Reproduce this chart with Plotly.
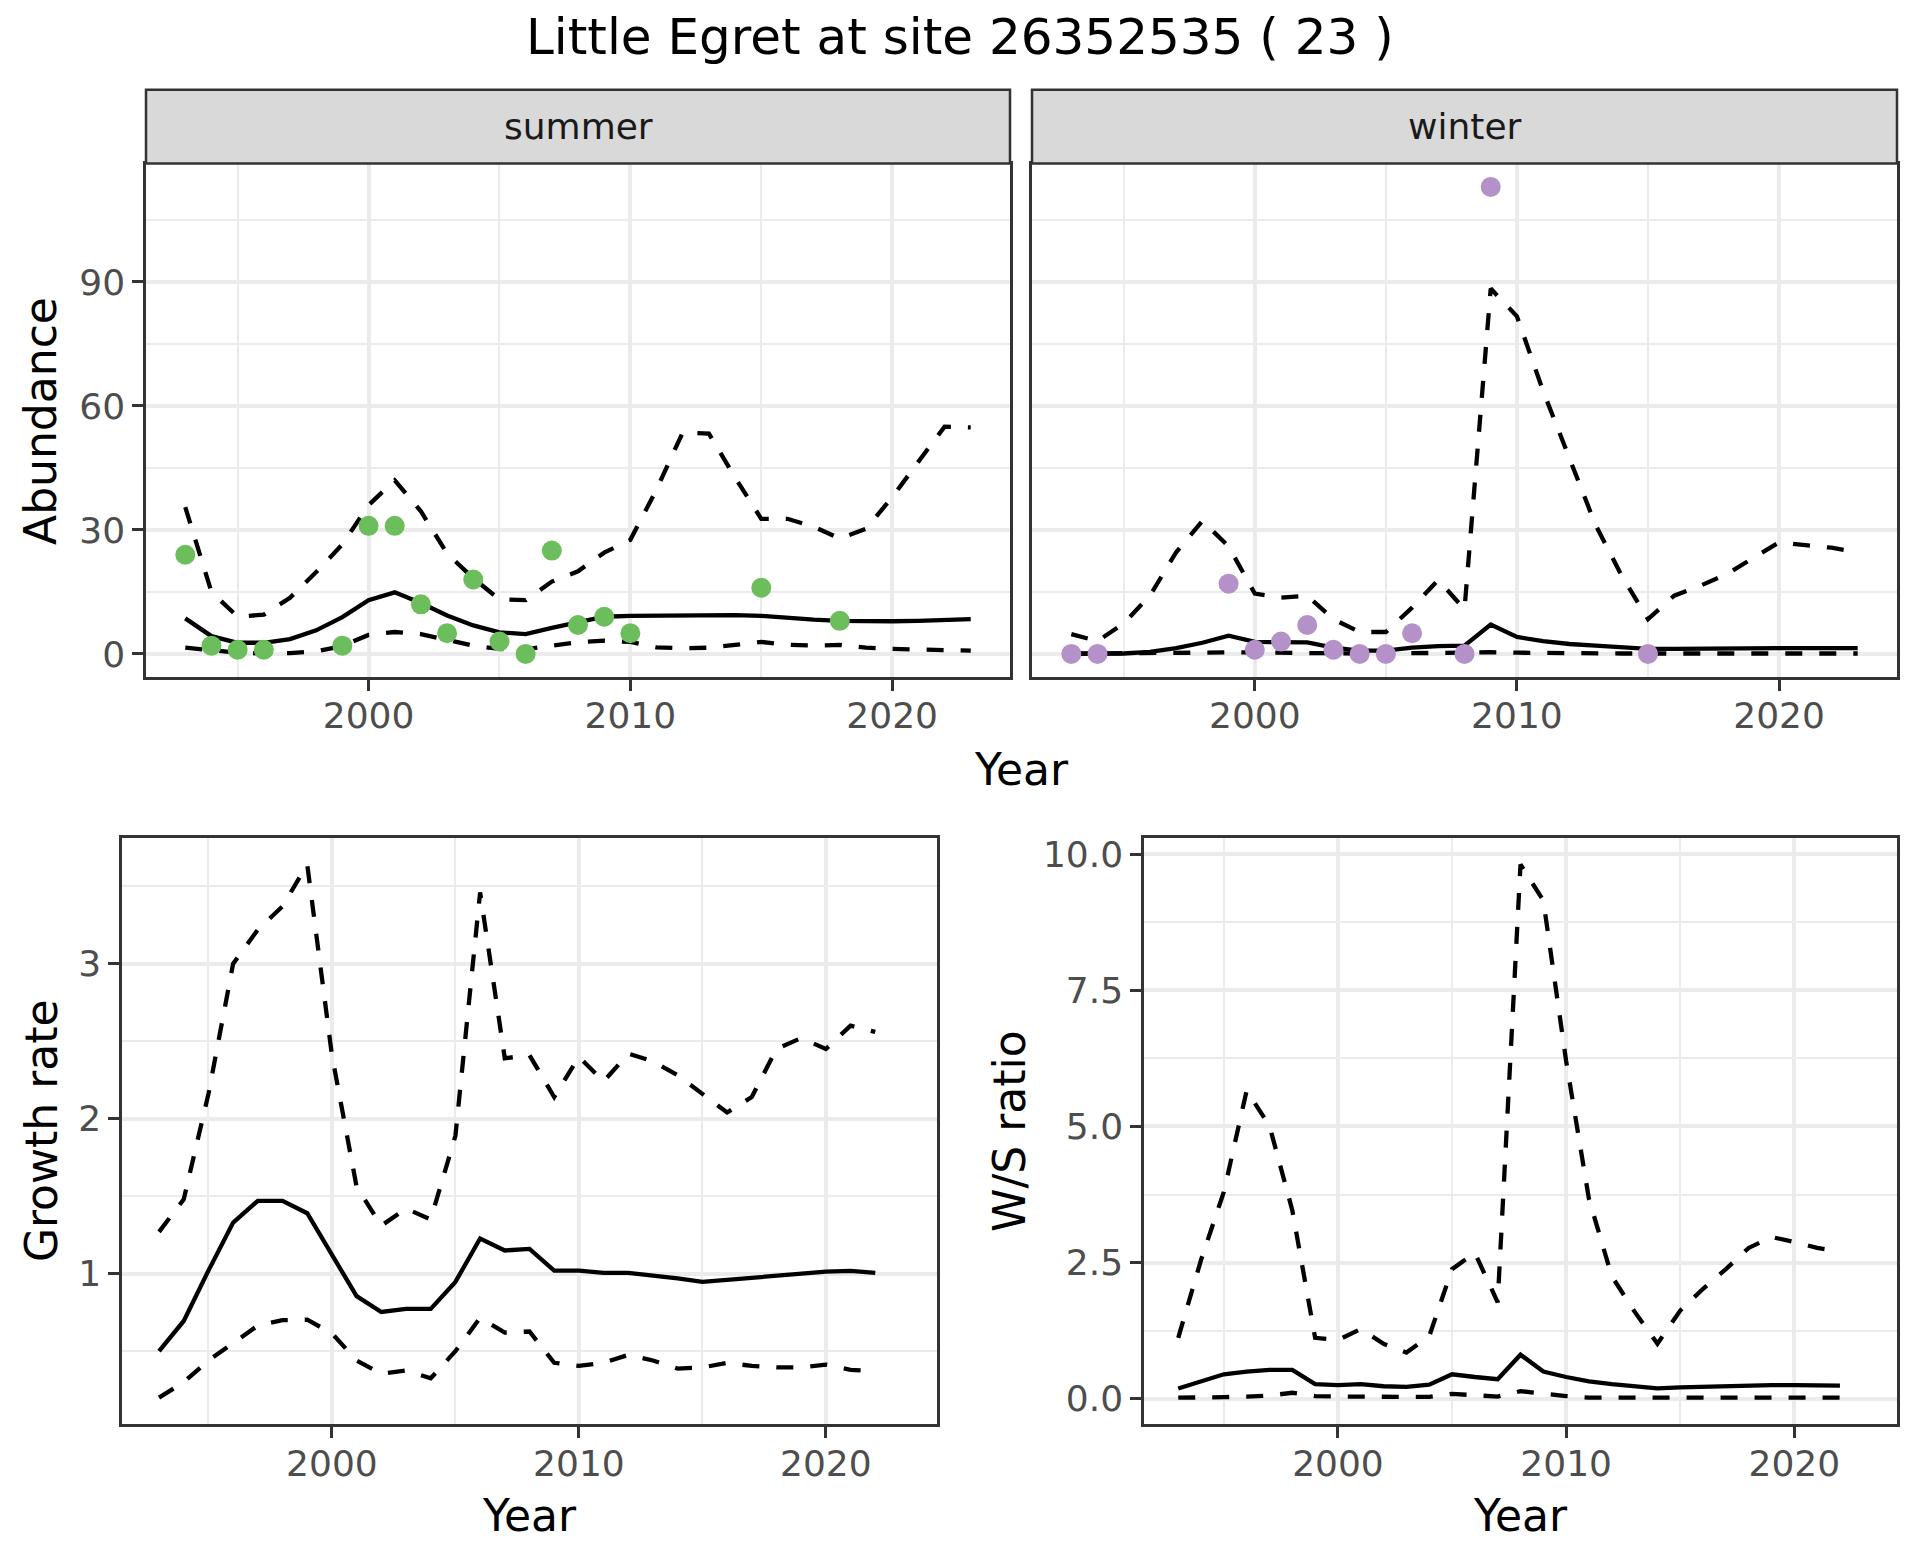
import plotly.graph_objects as go

# ---------------- data ----------------
years_top = list(range(1993, 2024))
years_ratio = list(range(1993, 2023))

summer_mean = [8.6, 4.3, 2.7, 2.7, 3.6, 5.7, 8.9, 13.0, 14.9, 12.3, 9.3, 6.9, 5.2, 4.8, 6.3, 7.7,
               9.0, 9.2, 9.3, 9.4, 9.4, 9.4, 9.2, 8.7, 8.3, 8.0, 7.9, 7.9, 8.0, 8.2, 8.4]
summer_upper = [35.5, 15.0, 9.0, 9.5, 13.6, 19.8, 26.5, 36.0, 42.0, 34.5, 24.3, 18.3, 13.2, 13.0, 17.5, 20.0,
                24.5, 27.6, 39.8, 53.6, 53.3, 42.7, 32.7, 32.7, 30.8, 27.9, 30.3, 37.9, 46.5, 55.0, 54.8]
summer_lower = [1.5, 0.8, 0.3, 0.1, 0.2, 0.6, 1.9, 4.6, 5.3, 4.8, 3.5, 2.0, 1.2, 1.1, 2.0, 2.8,
                3.2, 2.9, 1.6, 1.4, 1.5, 2.2, 2.9, 2.2, 2.0, 2.2, 1.5, 1.2, 1.0, 0.8, 0.8]
summer_obs_years = [1993, 1994, 1995, 1996, 1999, 2000, 2001, 2002, 2003, 2004, 2005, 2006, 2007, 2008,
                    2009, 2010, 2015, 2018]
summer_obs = [24, 2, 1, 1, 2, 31, 31, 12, 5, 18, 3, 0, 25, 7, 9, 5, 16, 8]

winter_mean = [0.0, 0.0, 0.1, 0.5, 1.4, 2.7, 4.4, 2.9, 2.9, 2.8, 1.5, 0.8, 0.8, 1.5, 1.9, 2.0,
               7.1, 4.1, 3.1, 2.4, 2.0, 1.6, 1.2, 1.2, 1.3, 1.3, 1.4, 1.4, 1.4, 1.4, 1.4]
winter_upper = [4.8, 3.1, 7.4, 14.1, 24.6, 32.2, 26.0, 14.6, 13.6, 14.1, 8.4, 5.3, 5.3, 11.2, 17.9, 10.8,
                88.4, 81.7, 63.6, 47.4, 31.2, 18.9, 8.4, 14.1, 16.5, 19.3, 23.1, 27.0, 26.3, 25.7, 24.6]
winter_lower = [0.1, 0.1, 0.1, 0.1, 0.2, 0.3, 0.4, 0.3, 0.3, 0.3, 0.2, 0.1, 0.1, 0.2, 0.2, 0.2,
                0.4, 0.3, 0.2, 0.1, 0.1, 0.1, 0.1, 0.1, 0.1, 0.1, 0.1, 0.1, 0.1, 0.1, 0.1]
winter_obs_years = [1993, 1994, 1999, 2000, 2001, 2002, 2003, 2004, 2005, 2006, 2008, 2009, 2015]
winter_obs = [0, 0, 17, 1, 3, 7, 1, 0, 0, 5, 0, 113, 0]

growth_mean = [0.50, 0.695, 1.02, 1.33, 1.47, 1.47, 1.39, 1.12, 0.855, 0.753, 0.773, 0.773, 0.947, 1.227,
               1.15, 1.16, 1.02, 1.02, 1.005, 1.005, 0.99, 0.97, 0.947, 0.96, 0.975, 0.99, 1.005, 1.013,
               1.018, 1.005]
growth_upper = [1.27, 1.48, 2.16, 3.0, 3.22, 3.37, 3.64, 2.41, 1.56, 1.31, 1.42, 1.35, 1.89, 3.46,
                2.39, 2.41, 2.14, 2.40, 2.24, 2.42, 2.37, 2.28, 2.16, 2.04, 2.14, 2.45, 2.52, 2.45,
                2.60, 2.56]
growth_lower = [0.20, 0.30, 0.44, 0.55, 0.665, 0.70, 0.703, 0.615, 0.44, 0.355, 0.375, 0.325, 0.50, 0.715,
                0.62, 0.627, 0.425, 0.405, 0.425, 0.476, 0.44, 0.388, 0.395, 0.425, 0.405, 0.395, 0.395,
                0.413, 0.38, 0.37]

ws_mean = [0.19, 0.32, 0.45, 0.50, 0.53, 0.53, 0.27, 0.25, 0.27, 0.23, 0.22, 0.26, 0.45, 0.40, 0.36,
           0.81, 0.50, 0.40, 0.32, 0.27, 0.22, 0.19, 0.21, 0.22, 0.24, 0.245, 0.25, 0.25, 0.245, 0.24]
ws_upper = [1.12, 2.55, 3.8, 5.66, 5.01, 3.46, 1.12, 1.08, 1.28, 1.01, 0.85, 1.15, 2.38, 2.68, 1.77,
            9.81, 9.15, 6.20, 3.67, 2.25, 1.6, 1.01, 1.62, 2.02, 2.38, 2.77, 2.97, 2.88, 2.77, 2.70]
ws_lower = [0.02, 0.02, 0.03, 0.04, 0.06, 0.11, 0.05, 0.04, 0.04, 0.04, 0.035, 0.035, 0.09, 0.065, 0.04,
            0.14, 0.09, 0.05, 0.02, 0.02, 0.02, 0.02, 0.02, 0.02, 0.02, 0.02, 0.02, 0.02, 0.02, 0.02]

title_text = "Little Egret at site 26352535 ( 23 )"
facet_labels = ["summer", "winter"]

# ---------------- styling ----------------
W, H = 1920, 1560
FONT = "DejaVu Sans"
GREEN = "#6CBE5C"
PURPLE = "#B491C8"
DASH = "17px,17px"
LW = 4.3


def px_x(v):
    return v / W


def px_y(v):
    return 1 - v / H


fig = go.Figure()


def add_lines(xs, mean, lo, hi, xa, ya):
    for vals, dash in ((mean, "solid"), (lo, DASH), (hi, DASH)):
        fig.add_trace(go.Scatter(x=xs, y=vals, mode="lines", xaxis=xa, yaxis=ya,
                                 line=dict(color="black", width=LW, dash=dash),
                                 showlegend=False, hoverinfo="skip"))


add_lines(years_top, summer_mean, summer_lower, summer_upper, "x", "y")
fig.add_trace(go.Scatter(x=summer_obs_years, y=summer_obs, mode="markers", xaxis="x", yaxis="y",
                         marker=dict(color=GREEN, size=20, line=dict(width=0)), showlegend=False))
add_lines(years_top, winter_mean, winter_lower, winter_upper, "x2", "y2")
fig.add_trace(go.Scatter(x=winter_obs_years, y=winter_obs, mode="markers", xaxis="x2", yaxis="y2",
                         marker=dict(color=PURPLE, size=20, line=dict(width=0)), showlegend=False))
add_lines(years_ratio, growth_mean, growth_lower, growth_upper, "x3", "y3")
add_lines(years_ratio, ws_mean, ws_lower, ws_upper, "x4", "y4")

# ranges (ggplot-like 5% expansion)
top_all = summer_mean + summer_upper + summer_lower + summer_obs + winter_mean + winter_upper + winter_lower + winter_obs


def expand(vals):
    lo, hi = min(vals), max(vals)
    pad = (hi - lo) * 0.05
    return [lo - pad, hi + pad]


xr = expand(years_top)
top_range = expand(top_all)
growth_range = expand(growth_mean + growth_upper + growth_lower)
ws_range = expand(ws_mean + ws_upper + ws_lower)

GRID_MAJ = "#EBEBEB"
TICKFONT = dict(family=FONT, size=36, color="#4D4D4D")


def axis_common(domain, rng, dtick, minor_dtick, tick0, show_labels=True, fmt=None, standoff=0):
    d = dict(domain=domain, range=rng, dtick=dtick, tick0=tick0, showgrid=True, gridcolor=GRID_MAJ,
             gridwidth=3.5, zeroline=False, showline=True, mirror=True, linecolor="#333333",
             linewidth=2.5, ticks="outside" if show_labels else "", ticklen=11, tickwidth=3,
             tickcolor="#333333", showticklabels=show_labels, tickfont=TICKFONT,
             ticklabelstandoff=standoff,
             minor=dict(dtick=minor_dtick, tick0=tick0, showgrid=True, gridcolor=GRID_MAJ,
                        gridwidth=1.8, ticks=""))
    if fmt:
        d["tickformat"] = fmt
    return d


top_y_dom = [px_y(675), px_y(160)]
bot_y_dom = [px_y(1424), px_y(836)]

fig.update_layout(
    width=W, height=H, margin=dict(l=0, r=0, t=0, b=0), autosize=False,
    paper_bgcolor="white", plot_bgcolor="white", showlegend=False,
    font=dict(family=FONT),
    xaxis=axis_common([px_x(146), px_x(1010)], xr, 10, 5, 2000, standoff=-6),
    yaxis=axis_common(top_y_dom, top_range, 30, 15, 0),
    xaxis2=axis_common([px_x(1032), px_x(1897)], xr, 10, 5, 2000, standoff=-6),
    yaxis2=axis_common(top_y_dom, top_range, 30, 15, 0, show_labels=False),
    xaxis3=axis_common([px_x(122), px_x(937)], xr, 10, 5, 2000, standoff=-5),
    yaxis3=axis_common(bot_y_dom, growth_range, 1, 0.5, 0),
    xaxis4=axis_common([px_x(1144), px_x(1897)], xr, 10, 5, 2000, standoff=-5),
    yaxis4=axis_common(bot_y_dom, ws_range, 2.5, 1.25, 0, fmt=".1f"),
)
fig.layout.xaxis.anchor = "y"
fig.layout.yaxis.anchor = "x"
fig.layout.xaxis2.anchor = "y2"
fig.layout.yaxis2.anchor = "x2"
fig.layout.xaxis3.anchor = "y3"
fig.layout.yaxis3.anchor = "x3"
fig.layout.xaxis4.anchor = "y4"
fig.layout.yaxis4.anchor = "x4"

# strips
strip_y0, strip_y1 = px_y(160), px_y(86)
for (x0, x1), lab in zip([(146, 1010), (1032, 1897)], facet_labels):
    fig.add_shape(type="rect", xref="paper", yref="paper", x0=px_x(x0), x1=px_x(x1), y0=strip_y0, y1=strip_y1,
                  fillcolor="#D9D9D9", line=dict(color="#333333", width=2.5), layer="above")
    fig.add_annotation(text=lab, xref="paper", yref="paper", x=px_x((x0 + x1) / 2), y=px_y(123),
                       showarrow=False, xanchor="center", yanchor="middle",
                       font=dict(family=FONT, size=36, color="#1A1A1A"))

annots = [
    (title_text, 960, 33, 0, 50),
    ("Abundance", 41, 418, -90, 44),
    ("Year", 1021.5, 767, 0, 44),
    ("Growth rate", 41, 1130, -90, 44),
    ("Year", 529.5, 1515, 0, 44),
    ("W/S ratio", 1009, 1130, -90, 44),
    ("Year", 1520.5, 1515, 0, 44),
]
for txt, x, y, ang, sz in annots:
    fig.add_annotation(text=txt, xref="paper", yref="paper", x=px_x(x), y=px_y(y), textangle=ang,
                       showarrow=False, xanchor="center", yanchor="middle",
                       font=dict(family=FONT, size=sz, color="black"))

fig.write_html("out.html", config={"displayModeBar": False},
               post_script="document.body.style.margin='0';document.body.style.padding='0';")
